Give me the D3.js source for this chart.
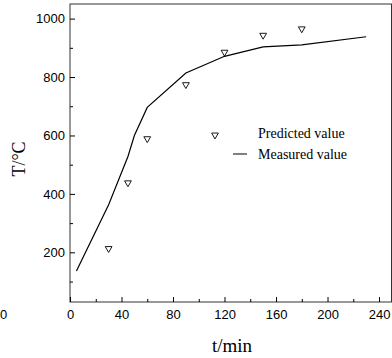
<!DOCTYPE html>
<meta charset="utf-8">
<script src="https://cdn.jsdelivr.net/npm/d3@7"></script>
<style>
body { margin: 0; background: #fff; }
.tick text { font-family: "Liberation Sans", Arial, sans-serif; font-size: 13px; fill: #000; }
.domain { stroke: #000; stroke-width: 1px; }
.tick line { stroke: #000; }
.serif { font-family: "Liberation Serif", "Times New Roman", serif; fill: #000; }
</style>
<body>
<script>

// measured curve (t in min, T in degC)
var measuredT = [5, 30, 45, 50, 60, 90, 120, 150, 180, 230];
var measuredV = [136, 363, 528, 600, 696, 814, 871, 903, 910, 938];

// predicted points
var predictedT = [30, 45, 60, 90, 120, 150, 180];
var predictedV = [213, 438, 589, 774, 885, 943, 965];

var xTicks = [0, 40, 80, 120, 160, 200, 240];
var yTicks = [200, 400, 600, 800, 1000];
var legendLabels = ["Predicted value", "Measured value"];

var width = 392, height = 358;
var left = 70, top_ = 4, right = 391.5, bottom = 302;

var svg = d3.select("body").append("svg")
    .attr("width", width)
    .attr("height", height);

var x = d3.scaleLinear().domain([0, 250]).range([left, left + 250 * 1.2876]);
var y = d3.scaleLinear().domain([30, 1050]).range([bottom, top_]);

// frame
svg.append("rect")
    .attr("x", left).attr("y", top_)
    .attr("width", right - left).attr("height", bottom - top_)
    .attr("fill", "none").attr("stroke", "#333").attr("stroke-width", 1);

// minor ticks
svg.append("g")
    .attr("transform", "translate(0," + bottom + ")")
    .call(d3.axisBottom(x).tickValues([20, 60, 100, 140, 180, 220]).tickSize(-3).tickFormat(""))
    .call(g => g.select(".domain").remove());
svg.append("g")
    .attr("transform", "translate(" + left + ",0)")
    .call(d3.axisLeft(y).tickValues([100, 300, 500, 700, 900]).tickSize(-3).tickFormat(""))
    .call(g => g.select(".domain").remove());

// major axes
svg.append("g")
    .attr("transform", "translate(0," + bottom + ")")
    .call(d3.axisBottom(x).tickValues(xTicks).tickFormat(d3.format("d")).tickSizeInner(-5).tickSizeOuter(0).tickPadding(8))
    .call(g => g.select(".domain").remove());
svg.append("g")
    .attr("transform", "translate(" + left + ",0)")
    .call(d3.axisLeft(y).tickValues(yTicks).tickFormat(d3.format("d")).tickSizeInner(-5).tickSizeOuter(0).tickPadding(5))
    .call(g => g.select(".domain").remove());

// stray zero at far left
svg.append("text")
    .attr("x", 0).attr("y", 319)
    .style("font-family", "Liberation Sans, Arial, sans-serif")
    .style("font-size", "13px")
    .text("0");

// axis titles
svg.append("text")
    .attr("class", "serif")
    .attr("x", 232).attr("y", 352)
    .attr("text-anchor", "middle")
    .style("font-size", "19px")
    .text("t/min");

svg.append("text")
    .attr("class", "serif")
    .attr("transform", "translate(25,159) rotate(-90)")
    .attr("text-anchor", "middle")
    .style("font-size", "18px")
    .text("T/\u00b0C");

// measured line
var measured = measuredT.map(function(t, i) { return [t, measuredV[i]]; });
svg.append("path")
    .datum(measured)
    .attr("fill", "none")
    .attr("stroke", "#000")
    .attr("stroke-width", 1.2)
    .attr("d", d3.line().x(function(d) { return x(d[0]); }).y(function(d) { return y(d[1]); }));

// predicted triangles
var tri = d3.symbol().type(d3.symbolTriangle).size(20);
svg.append("g")
    .selectAll("path")
    .data(predictedT.map(function(t, i) { return [t, predictedV[i]]; }))
    .enter().append("path")
    .attr("d", tri)
    .attr("fill", "none")
    .attr("stroke", "#000")
    .attr("stroke-width", 0.9)
    .attr("transform", function(d) { return "translate(" + x(d[0]) + "," + y(d[1]) + ") rotate(180)"; });

// legend
var lg = svg.append("g");
lg.append("path")
    .attr("d", tri)
    .attr("fill", "none").attr("stroke", "#000").attr("stroke-width", 0.9)
    .attr("transform", "translate(215,135) rotate(180)");
lg.append("line")
    .attr("x1", 233).attr("x2", 247).attr("y1", 154).attr("y2", 154)
    .attr("stroke", "#000").attr("stroke-width", 1);
lg.selectAll("text")
    .data(legendLabels)
    .enter().append("text")
    .attr("class", "serif")
    .attr("x", 258)
    .attr("y", function(d, i) { return 138 + i * 21; })
    .style("font-size", "14px")
    .text(function(d) { return d; });

</script>
</body>
